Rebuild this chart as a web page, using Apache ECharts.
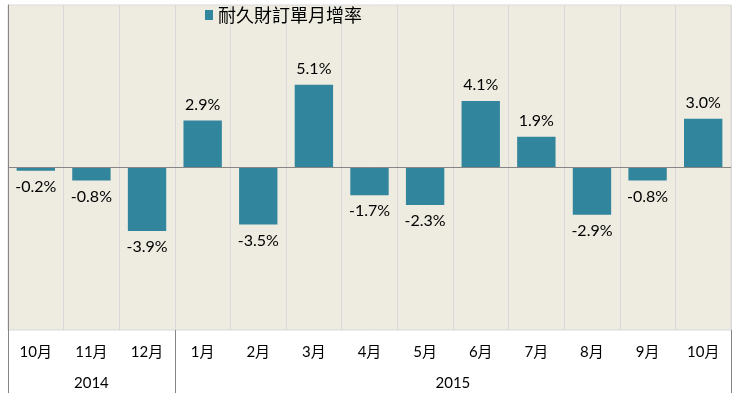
<!DOCTYPE html>
<html><head><meta charset="utf-8">
<script src="https://cdn.jsdelivr.net/npm/echarts@6/dist/echarts.min.js"></script>
<style>html,body{margin:0;padding:0;background:#fff}#c{width:740px;height:393px}</style>
</head><body><div id="c"></div>
<script>
var seriesName = '耐久財訂單月增率';
var months = ['10月','11月','12月','1月','2月','3月','4月','5月','6月','7月','8月','9月','10月'];
var values = [-0.2, -0.8, -3.9, 2.9, -3.5, 5.1, -1.7, -2.3, 4.1, 1.9, -2.9, -0.8, 3.0];
var years = ['2014', '2015'];
var yearSpans = [3, 10];

var yearCenters = [], yearBounds = [0], acc = 0;
yearSpans.forEach(function (s) { yearCenters.push(acc + s / 2); acc += s; yearBounds.push(acc); });

var font = 'Lato, "Noto Sans CJK TC", sans-serif';
var chart = echarts.init(document.getElementById('c'));
chart.setOption({
  animation: false,
  backgroundColor: '#ffffff',
  legend: {
    left: 200, top: 1, itemWidth: 8, itemHeight: 10, itemGap: 4,
    icon: 'rect',
    textStyle: { fontFamily: '"Noto Sans CJK TC", sans-serif', fontSize: 18, color: '#000' },
    data: [seriesName]
  },
  grid: {
    left: 8, right: 9, top: 5, bottom: 63,
    show: true, backgroundColor: '#EEECE1', borderColor: '#D9D9D9', borderWidth: 1
  },
  xAxis: [{
    type: 'category', data: months, position: 'bottom',
    axisLine: { show: false }, axisTick: { show: false },
    splitLine: { show: true, lineStyle: { color: '#D9D9D9', width: 1 } },
    axisLabel: { margin: 15, fontFamily: font, fontSize: 15, color: '#000' }
  }, {
    type: 'value', min: 0, max: yearBounds[yearBounds.length - 1], position: 'bottom',
    axisLine: { show: false },
    splitLine: { show: false },
    axisTick: { show: true, customValues: yearBounds, length: 63, lineStyle: { color: '#868686', width: 1 } },
    axisLabel: {
      customValues: yearCenters, margin: 46, fontFamily: font, fontSize: 15, color: '#000',
      formatter: function (v) { var i = yearCenters.indexOf(v); return i >= 0 ? years[i] : ''; }
    }
  }],
  yAxis: {
    type: 'value', min: -10, max: 10,
    axisLine: { show: true, lineStyle: { color: '#868686' } },
    axisTick: { show: false }, axisLabel: { show: false }, splitLine: { show: false }
  },
  series: [{
    name: seriesName, type: 'bar', xAxisIndex: 0,
    data: values.map(function (v) {
      return v < 0 ? { value: v, label: { position: 'bottom' } } : v;
    }),
    barCategoryGap: '31%',
    itemStyle: { color: '#31859C' },
    label: {
      show: true, fontFamily: font, fontSize: 16, color: '#000',
      position: 'top', distance: 8,
      formatter: function (p) { return p.value.toFixed(1) + '%'; }
    },
    markLine: {
      silent: true, symbol: 'none', label: { show: false },
      lineStyle: { color: '#868686', type: 'solid', width: 1 },
      data: [{ yAxis: 0 }]
    }
  }]
});
</script>
</body></html>
